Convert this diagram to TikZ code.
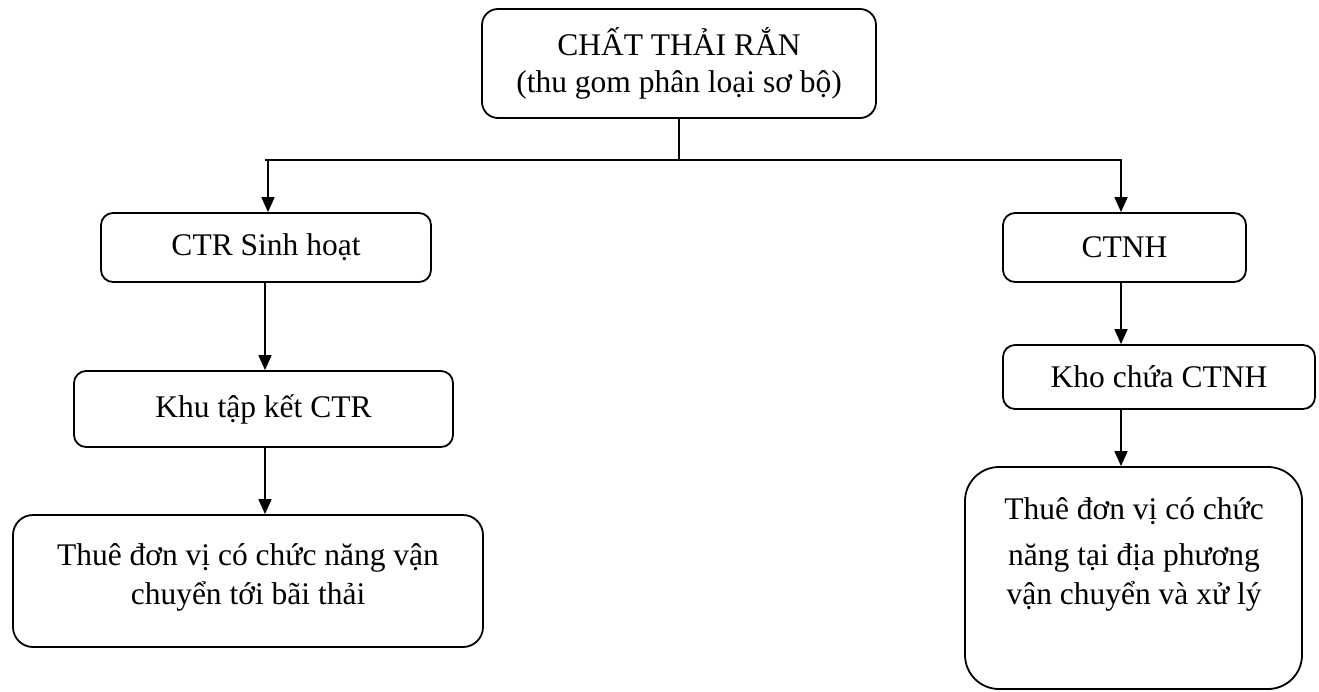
\documentclass[tikz,border=0pt]{standalone}
\usepackage{fontspec}
\setmainfont{Liberation Serif}
\usetikzlibrary{arrows.meta}
\begin{document}
\begin{tikzpicture}[x=1pt, y=-1pt,
  box/.style={draw, line width=1.8pt, rounded corners=12pt, inner sep=0pt,
    align=center, font=\fontsize{31.5}{37}\selectfont},
  txt/.style={align=center, inner sep=0pt, font=\fontsize{31.5}{39}\selectfont},
  link/.style={line width=1.7pt},
  arr/.style={line width=1.7pt, -{Triangle[length=15pt, width=13pt]}}]
\useasboundingbox (0,0) rectangle (1319,691);

% boxes
\node[box, minimum width=394pt, minimum height=109pt, rounded corners=16pt]
  (top) at (679,63.5) {CHẤT THẢI RẮN\\(thu gom phân loại sơ bộ)};
\node[box, minimum width=330pt, minimum height=69pt] (ctr) at (266,247.5) {CTR Sinh hoạt};
\node[box, minimum width=243pt, minimum height=69pt] (ctnh) at (1124.5,247.5) {CTNH};
\node[box, minimum width=379pt, minimum height=76pt] (khu) at (263.5,409) {Khu tập kết CTR};
\node[box, minimum width=312pt, minimum height=64pt] (kho) at (1159,377) {Kho chứa CTNH};
\node[box, minimum width=470pt, minimum height=132pt, rounded corners=20pt]
  (thue1) at (248,581) {};
\node[box, minimum width=337pt, minimum height=222pt, rounded corners=34pt]
  (thue2) at (1133.5,578) {};

% texts of the two lower boxes
\node[txt] (thue1text) at (248,577) {Thuê đơn vị có chức năng vận\\chuyển tới bãi thải};
\node[txt] (thue2text) at (1134,554.5) {Thuê đơn vị có chức\\[7pt]năng tại địa phương\\vận chuyển và xử lý};

% distribution bus
\coordinate (busL) at (268,160);
\coordinate (busR) at (1121,160);
\coordinate (busLend) at (265,160);
\coordinate (busRend) at (1122,160);
\coordinate (leftx) at (265,0);

\draw[link] (top.south) -- (top.south |- busL);
\draw[link] (busLend) -- (busRend);
\draw[arr] (busL) -- (busL |- ctr.north);
\draw[arr] (busR) -- (busR |- ctnh.north);

% left branch
\draw[arr] (leftx |- ctr.south) -- (leftx |- khu.north);
\draw[arr] (leftx |- khu.south) -- (leftx |- thue1.north);

% right branch
\draw[arr] (busR |- ctnh.south) -- (busR |- kho.north);
\draw[arr] (busR |- kho.south) -- (busR |- thue2.north);
\end{tikzpicture}
\end{document}
